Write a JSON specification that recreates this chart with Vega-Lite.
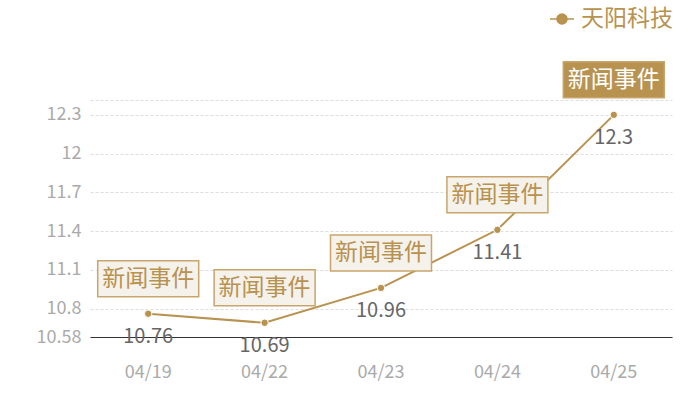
{
  "$schema": "https://vega.github.io/schema/vega-lite/v6.json",
  "autosize": {"type": "none"},
  "width": 582,
  "height": 237,
  "padding": {"left": 90, "top": 100, "right": 28, "bottom": 63},
  "background": "#ffffff",
  "config": {
    "font": "Noto Sans CJK SC",
    "view": {"stroke": null}
  },
  "data": {
    "values": [
      {"date": "04/19", "price": 10.76, "event": "新闻事件"},
      {"date": "04/22", "price": 10.69, "event": "新闻事件"},
      {"date": "04/23", "price": 10.96, "event": "新闻事件"},
      {"date": "04/24", "price": 11.41, "event": "新闻事件"},
      {"date": "04/25", "price": 12.3, "event": "新闻事件"}
    ]
  },
  "encoding": {
    "x": {
      "field": "date",
      "type": "ordinal",
      "sort": null,
      "title": null,
      "scale": {"type": "band", "paddingInner": 0, "paddingOuter": 0},
      "axis": {
        "labelAngle": 0,
        "labelFontSize": 18,
        "labelColor": "#aaaaaa",
        "labelPadding": 26,
        "ticks": false,
        "domainColor": "#333333",
        "domainWidth": 1
      }
    },
    "y": {
      "field": "price",
      "type": "quantitative",
      "title": null,
      "scale": {"domain": [10.58, 12.415], "zero": false, "nice": false},
      "axis": {
        "values": [10.58, 10.8, 11.1, 11.4, 11.7, 12, 12.3, 12.415],
        "labelExpr": "datum.value > 12.4 ? '' : '' + datum.value",
        "labelFontSize": 18,
        "labelColor": "#aaaaaa",
        "labelPadding": 9,
        "ticks": false,
        "domain": false,
        "gridColor": "#dddddd",
        "gridDash": [3, 2]
      }
    }
  },
  "layer": [
    {
      "mark": {"type": "line", "strokeWidth": 2},
      "encoding": {
        "color": {
          "datum": "天阳科技",
          "scale": {"range": ["#b8924f"]},
          "legend": {
            "title": null,
            "orient": "none",
            "legendX": 459,
            "legendY": -94,
            "padding": 0,
            "symbolType": "M-1,0L-0.42,0M0.42,0L1,0M0.42,0A0.42,0.42 0 1,1 -0.42,0A0.42,0.42 0 1,1 0.42,0Z",
            "symbolSize": 576,
            "symbolStrokeWidth": 1.5,
            "labelFontSize": 23,
            "labelColor": "#b8924f",
            "labelOffset": 6,
            "encode": {
              "symbols": {"update": {"fill": {"value": "#b8924f"}, "stroke": {"value": "#b8924f"}}}
            }
          }
        }
      }
    },
    {
      "mark": {"type": "point", "filled": true, "size": 55, "color": "#b8924f", "stroke": "#ffffff", "strokeWidth": 1, "opacity": 1}
    },
    {
      "mark": {"type": "text", "dy": 23, "fontSize": 20, "color": "#666666"},
      "encoding": {"text": {"field": "price", "type": "quantitative"}}
    },
    {
      "mark": {
        "type": "point",
        "shape": "M-1,-0.356L1,-0.356L1,0.356L-1,0.356Z",
        "size": 10201,
        "yOffset": -35,
        "strokeWidth": 1.5,
        "stroke": "#c9a56e",
        "opacity": 1,
        "filled": true
      },
      "encoding": {
        "fill": {
          "condition": {"test": "datum.date === '04/25'", "value": "#b8924f"},
          "value": "#f5f1eb"
        }
      }
    },
    {
      "mark": {"type": "text", "yOffset": -35, "fontSize": 23},
      "encoding": {
        "text": {"field": "event", "type": "nominal"},
        "color": {
          "condition": {"test": "datum.date === '04/25'", "value": "#ffffff"},
          "value": "#b8924f"
        }
      }
    }
  ]
}
